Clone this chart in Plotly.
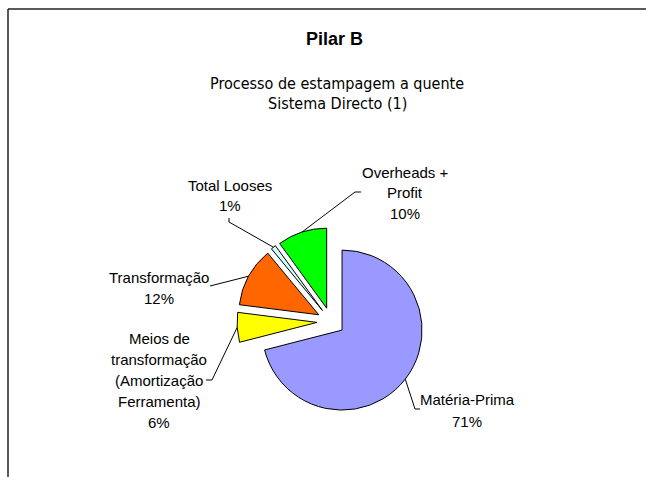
import math
import plotly.graph_objects as go

# Cost breakdown, hot stamping process (direct system)
labels = [
    "Matéria-Prima",
    "Meios de<br>transformação<br>(Amortização<br>Ferramenta)",
    "Transformação",
    "Total Looses",
    "Overheads +<br>Profit",
]
values = [71, 6, 12, 1, 10]
colors = ["#9999FF", "#FFFF00", "#FF6600", "#CCFFFF", "#00FF00"]

title_text = "Pilar B"
subtitle_lines = ["Processo de estampagem a quente", "Sistema Directo (1)"]

W, H = 646, 477

# pie geometry (pixels)
CX, CY = 331, 321.5
R = 80
PULL = 0.175
HALF = R * (1 + PULL)

# label block: centre x, first-line y, line step (pixels)
text_pos = [(467, 399, 22), (159, 338, 21), (159, 277, 21), (230, 185, 20), (405, 172, 20.5)]
# leader-line bends, from the slice outwards to the label (pixels)
elbows = [
    [(415, 409), (420, 409)],
    [(212, 380), (206, 380)],
    [(210, 286)],
    [(229, 222), (229, 218)],
    [(355, 192), (361, 192)],
]

LABEL_FONT = dict(family="Liberation Sans, Arial", size=15, color="#000000")


def px(x):
    return x / W


def py(y):
    return 1 - y / H


fig = go.Figure(
    go.Pie(
        values=values,
        labels=labels,
        sort=False,
        direction="clockwise",
        rotation=0,
        pull=[PULL] * len(values),
        marker=dict(colors=colors, line=dict(color="#000000", width=1)),
        textinfo="none",
        hoverinfo="skip",
        showlegend=False,
        domain=dict(x=[px(CX - HALF), px(CX + HALF)], y=[py(CY + HALF), py(CY - HALF)]),
    )
)

total = sum(values)
shapes = []
annotations = []
cum = 0
for lab, v, (tx, ty, step), el in zip(labels, values, text_pos, elbows):
    mid = (cum + v / 2) / total * 360
    cum += v
    a = math.radians(mid)
    ex = CX + HALF * math.sin(a)
    ey = CY - HALF * math.cos(a)
    pts = [(ex, ey)] + el
    path = "M " + " L ".join(f"{px(x):.5f},{py(y):.5f}" for x, y in pts)
    shapes.append(dict(type="path", xref="paper", yref="paper", path=path,
                       line=dict(color="#000000", width=1)))
    pct = round(v / total * 100)
    lines = lab.split("<br>") + [f"{pct}%"]
    for i, line in enumerate(lines):
        annotations.append(dict(
            x=px(tx), y=py(ty + i * step), xref="paper", yref="paper",
            text=line, showarrow=False, xanchor="center", yanchor="middle",
            font=LABEL_FONT,
        ))

# title and subtitle
annotations.append(dict(
    x=px(334.5), y=py(39.5), xref="paper", yref="paper", text=f"<b>{title_text}</b>",
    showarrow=False, xanchor="center", yanchor="middle",
    font=dict(family="Liberation Sans, Arial", size=18, color="#000000"),
))
for i, line in enumerate(subtitle_lines):
    annotations.append(dict(
        x=px(337), y=py(83 + i * 20), xref="paper", yref="paper", text=line,
        showarrow=False, xanchor="center", yanchor="middle",
        font=dict(family="DejaVu Sans Condensed, DejaVu Sans", size=16, color="#000000"),
    ))

# chart frame
shapes.append(dict(type="line", xref="paper", yref="paper", x0=px(8), x1=1.01,
                   y0=py(9), y1=py(9), line=dict(color="#222222", width=1.5)))
shapes.append(dict(type="line", xref="paper", yref="paper", x0=px(8), x1=px(8),
                   y0=py(9), y1=-0.01, line=dict(color="#222222", width=1.5)))

fig.update_layout(
    width=W, height=H,
    margin=dict(l=0, r=0, t=0, b=0),
    paper_bgcolor="#FFFFFF",
    plot_bgcolor="#FFFFFF",
    shapes=shapes,
    annotations=annotations,
)

fig.write_html("out.html")
